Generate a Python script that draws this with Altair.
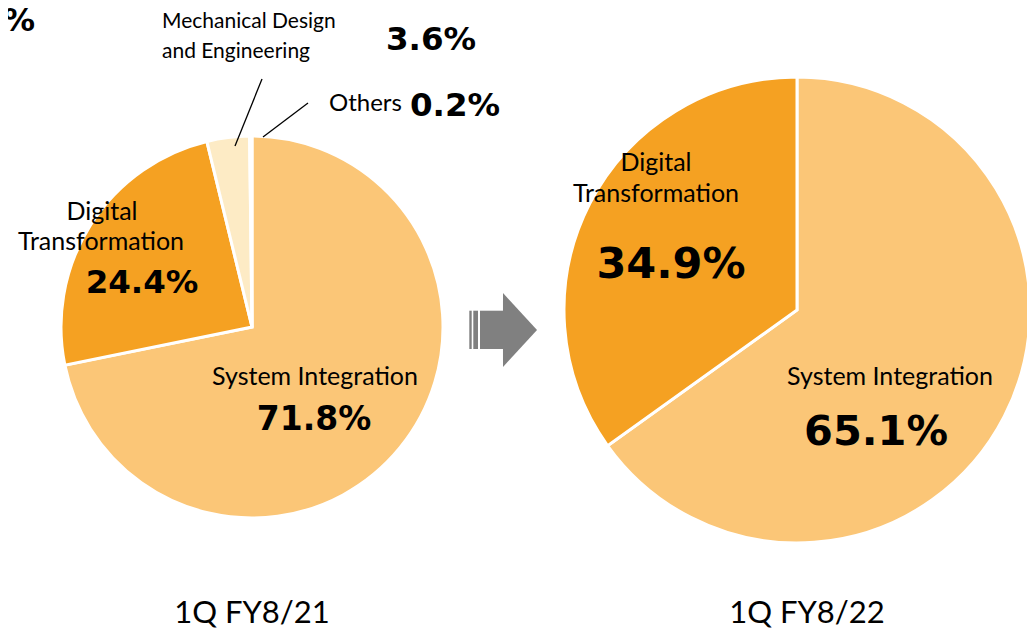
import altair as alt
import pandas as pd

# ---- data ----
categories = ["System Integration", "Digital Transformation", "Mechanical Design and Engineering", "Others"]
colors = ["#FBC677", "#F5A122", "#FDEBC5", "#FDE3B0"]
share_fy21 = [71.8, 24.4, 3.6, 0.2]
share_fy22 = [65.1, 34.9, 0.0, 0.0]
periods = ["1Q FY8/21", "1Q FY8/22"]

df21 = pd.DataFrame({"cat": categories, "share": share_fy21, "order": list(range(4))})
df22 = pd.DataFrame({"cat": categories[:2], "share": share_fy22[:2], "order": list(range(2))})

W, H = 1019, 623
OFF = 8  # page margin offset

def px(x):
    return x - OFF

color = alt.Color("cat:N", scale=alt.Scale(domain=categories, range=colors), legend=None)

def pie(df, cx, cy, r):
    return alt.Chart(df).mark_arc(outerRadius=r, stroke="white", strokeWidth=3).encode(
        theta=alt.Theta("share:Q", stack=True),
        color=color,
        order=alt.Order("order:Q"),
        x=alt.value(px(cx)),
        y=alt.value(px(cy)),
    )

left = pie(df21, 252, 327, 191)
right = pie(df22, 797, 310, 233)

# ---- text annotations ----
LABEL_FONT = "Lato"
PCT_FONT = "DejaVu Sans"

def txt(text, x, y, size, font, bold=False, align="center", baseline="middle"):
    return alt.Chart(pd.DataFrame({"t": [text]})).mark_text(
        font=font, fontSize=size, fontWeight="bold" if bold else "normal",
        align=align, baseline=baseline, color="black"
    ).encode(text="t:N", x=alt.value(px(x)), y=alt.value(px(y)))

labels = [
    txt("Mechanical Design", 162, 22, 21, LABEL_FONT, align="left"),
    txt("and Engineering", 162, 52, 21, LABEL_FONT, align="left"),
    txt("3.6%", 431, 40, 32.5, PCT_FONT, bold=True),
    txt("Others", 329, 104, 24, LABEL_FONT, align="left"),
    txt("0.2%", 455, 106, 32.5, PCT_FONT, bold=True),
    txt("0.3%", 35, 21, 32, PCT_FONT, bold=True, align="right"),
    txt("Digital", 102, 212, 25, LABEL_FONT),
    txt("Transformation", 101, 242, 25, LABEL_FONT),
    txt("24.4%", 142, 283, 32.5, PCT_FONT, bold=True),
    txt("System Integration", 315, 377, 25, LABEL_FONT),
    txt("71.8%", 314, 420, 33, PCT_FONT, bold=True),
    txt("Digital", 656, 163, 25, LABEL_FONT),
    txt("Transformation", 656, 194, 25, LABEL_FONT),
    txt("34.9%", 671, 265, 43, PCT_FONT, bold=True),
    txt("System Integration", 890, 377, 25, LABEL_FONT),
    txt("65.1%", 876, 433, 41.5, PCT_FONT, bold=True),
    txt(periods[0], 252, 623, 31, LABEL_FONT, baseline="alphabetic"),
    txt(periods[1], 807, 623, 31, LABEL_FONT, baseline="alphabetic"),
]

def seg(x1, y1, x2, y2):
    return alt.Chart(pd.DataFrame({"a": [0]})).mark_rule(color="black", strokeWidth=1.3).encode(
        x=alt.value(px(x1)), y=alt.value(px(y1)), x2=alt.value(px(x2)), y2=alt.value(px(y2))
    )

leaders = [seg(235, 146, 262, 79), seg(263, 137, 308, 103)]

# ---- arrow ----
GRAY = "#808080"

def box(x1, x2, y1, y2):
    return alt.Chart(pd.DataFrame({"a": [0]})).mark_rect(color=GRAY).encode(
        x=alt.value(px(x1)), x2=alt.value(px(x2)), y=alt.value(px(y1)), y2=alt.value(px(y2))
    )

arrow = [
    box(469.3, 471.7, 310.7, 349),
    box(473.3, 478, 310.7, 349),
    box(480, 504, 310.7, 349),
    alt.Chart(pd.DataFrame({"a": [0]})).mark_point(
        shape="M-0.46,-1L0.46,0L-0.46,1Z", filled=True, color=GRAY, opacity=1, size=5476
    ).encode(x=alt.value(px(520)), y=alt.value(px(330))),
]

chart = alt.layer(left, right, *leaders, *arrow, *labels).resolve_scale(theta="independent").properties(
    width=W, height=H, padding=0,
    autosize=alt.AutoSizeParams(type="none"),
).configure_view(stroke=None)

chart.save("out.html", embed_options={"renderer": "svg", "actions": False})
